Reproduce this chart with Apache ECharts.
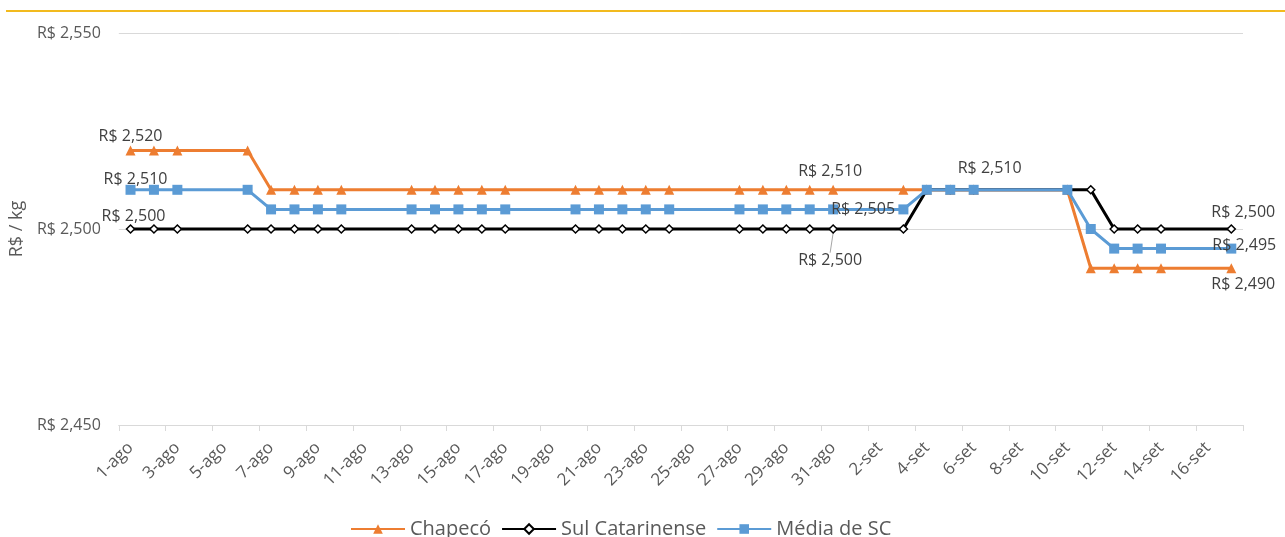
<!DOCTYPE html>
<html>
<head>
<meta charset="utf-8">
<script src="https://cdn.jsdelivr.net/npm/echarts@6/dist/echarts.min.js"></script>
<style>
  html, body { margin: 0; padding: 0; background: #fff; }
  #chart { width: 1285px; height: 537px; }
</style>
</head>
<body>
<div id="chart"></div>
<script>
// Daily categories, 1 Aug – 17 Sep
const categories = [
  '1-ago','2-ago','3-ago','4-ago','5-ago','6-ago','7-ago','8-ago','9-ago','10-ago',
  '11-ago','12-ago','13-ago','14-ago','15-ago','16-ago','17-ago','18-ago','19-ago','20-ago',
  '21-ago','22-ago','23-ago','24-ago','25-ago','26-ago','27-ago','28-ago','29-ago','30-ago',
  '31-ago','1-set','2-set','3-set','4-set','5-set','6-set','7-set','8-set','9-set',
  '10-set','11-set','12-set','13-set','14-set','15-set','16-set','17-set'
];

// Prices in R$/kg (null = no quotation that day)
const chapeco = [
  2.52, 2.52, 2.52, null, null, 2.52, 2.51, 2.51, 2.51, 2.51,
  null, null, 2.51, 2.51, 2.51, 2.51, 2.51, null, null, 2.51,
  2.51, 2.51, 2.51, 2.51, null, null, 2.51, 2.51, 2.51, 2.51,
  2.51, null, null, 2.51, 2.51, 2.51, 2.51, null, null, null,
  2.51, 2.49, 2.49, 2.49, 2.49, null, null, 2.49
];
const sulCatarinense = [
  2.50, 2.50, 2.50, null, null, 2.50, 2.50, 2.50, 2.50, 2.50,
  null, null, 2.50, 2.50, 2.50, 2.50, 2.50, null, null, 2.50,
  2.50, 2.50, 2.50, 2.50, null, null, 2.50, 2.50, 2.50, 2.50,
  2.50, null, null, 2.50, 2.51, 2.51, 2.51, null, null, null,
  2.51, 2.51, 2.50, 2.50, 2.50, null, null, 2.50
];
const mediaSC = [
  2.51, 2.51, 2.51, null, null, 2.51, 2.505, 2.505, 2.505, 2.505,
  null, null, 2.505, 2.505, 2.505, 2.505, 2.505, null, null, 2.505,
  2.505, 2.505, 2.505, 2.505, null, null, 2.505, 2.505, 2.505, 2.505,
  2.505, null, null, 2.505, 2.51, 2.51, 2.51, null, null, null,
  2.51, 2.50, 2.495, 2.495, 2.495, null, null, 2.495
];

const seriesNames = ['Chapecó', 'Sul Catarinense', 'Média de SC'];
const yMin = 2.45, yMax = 2.55, yStep = 0.05;

const FONT = 'Open Sans';
const fmt = v => 'R$ ' + v.toFixed(3).replace('.', ',');

// Value labels shown on selected points: dataIndex -> label placement
const chapecoLabels = {
  0:  { position: 'top', distance: 1 },
  30: { position: 'top', distance: 5, dx: -3 },
  47: { position: 'bottom', distance: 3, dx: 12 }
};
const sulLabels = {
  0:  { position: 'top', distance: 0, dx: 3 },
  30: { position: 'bottom', distance: 5, dx: -3, dy: 14, leader: true },
  36: { position: 'top', distance: 9, dx: 16 },
  47: { position: 'top', distance: 4, dx: 12 }
};
const mediaLabels = {
  0:  { position: 'top', distance: -3, dx: 5 },
  30: { position: 'right', distance: 5, dx: -12 },
  47: { position: 'inside', dx: 13, dy: -3 }
};

const leaderStyle = { color: '#A6A6A6', width: 1 };

function buildData(values, labels) {
  return values.map((v, i) => {
    if (v === null) return null;
    const l = labels[i];
    if (!l) return { value: v, label: { show: false }, labelLine: { show: false } };
    const lab = { show: true, position: l.position, formatter: fmt(v) };
    if (l.distance !== undefined) lab.distance = l.distance;
    return {
      value: v,
      label: lab,
      labelLine: l.leader ? { show: true, lineStyle: leaderStyle } : { show: false }
    };
  });
}

// Shift chosen labels by dx/dy after default placement
function shifter(labels) {
  return function (params) {
    const l = labels[params.dataIndex];
    if (!l) return {};
    return { dx: l.dx || 0, dy: l.dy || 0 };
  };
}

const labelText = { color: '#404040', fontFamily: FONT, fontSize: 16 };

const chart = echarts.init(document.getElementById('chart'), null, { renderer: 'canvas' });

chart.setOption({
  animation: false,
  backgroundColor: '#ffffff',
  textStyle: { fontFamily: FONT },
  graphic: [{
    type: 'line',
    shape: { x1: 6, y1: 11, x2: 1285, y2: 11 },
    style: { stroke: '#F2BA1E', lineWidth: 2 }
  }],
  grid: { left: 117, right: 42, top: 33, bottom: 112, containLabel: false },
  legend: {
    left: 345,
    top: 514,
    itemWidth: 54,
    itemHeight: 12,
    itemGap: 10,
    textStyle: { color: '#595959', fontSize: 20, fontFamily: FONT },
    data: seriesNames
  },
  xAxis: {
    type: 'category',
    data: categories,
    boundaryGap: true,
    axisLine: { show: true, lineStyle: { color: '#D9D9D9', width: 1 } },
    axisTick: { show: true, interval: 1, length: 6, lineStyle: { color: '#D9D9D9' } },
    axisLabel: {
      interval: 1,
      rotate: 45,
      margin: 20,
      color: '#595959',
      fontSize: 17,
      fontFamily: FONT
    },
    splitLine: { show: false }
  },
  yAxis: {
    type: 'value',
    min: yMin,
    max: yMax,
    interval: yStep,
    name: 'R$ / kg',
    nameLocation: 'middle',
    nameGap: 83,
    nameRotate: 90,
    nameTextStyle: { color: '#595959', fontSize: 18, fontFamily: FONT },
    axisLine: { show: false },
    axisTick: { show: false },
    axisLabel: {
      color: '#595959',
      fontSize: 16,
      fontFamily: FONT,
      margin: 18,
      formatter: v => fmt(v)
    },
    splitLine: { show: true, lineStyle: { color: '#D9D9D9', width: 1 } }
  },
  series: [
    {
      name: seriesNames[0],
      type: 'line',
      data: buildData(chapeco, chapecoLabels),
      connectNulls: true,
      symbol: 'triangle',
      symbolSize: 10,
      showAllSymbol: true,
      lineStyle: { color: '#ED7D31', width: 3 },
      itemStyle: { color: '#ED7D31' },
      label: labelText,
      labelLayout: shifter(chapecoLabels),
      z: 2
    },
    {
      name: seriesNames[1],
      type: 'line',
      data: buildData(sulCatarinense, sulLabels),
      connectNulls: true,
      symbol: 'diamond',
      symbolSize: 8,
      showAllSymbol: true,
      lineStyle: { color: '#000000', width: 3 },
      itemStyle: { color: '#ffffff', borderColor: '#000000', borderWidth: 1.5 },
      label: labelText,
      labelLayout: shifter(sulLabels),
      z: 3
    },
    {
      name: seriesNames[2],
      type: 'line',
      data: buildData(mediaSC, mediaLabels),
      connectNulls: true,
      symbol: 'rect',
      symbolSize: 10,
      showAllSymbol: true,
      lineStyle: { color: '#5B9BD5', width: 3 },
      itemStyle: { color: '#5B9BD5' },
      label: labelText,
      labelLayout: shifter(mediaLabels),
      z: 4
    }
  ]
});
</script>
</body>
</html>
